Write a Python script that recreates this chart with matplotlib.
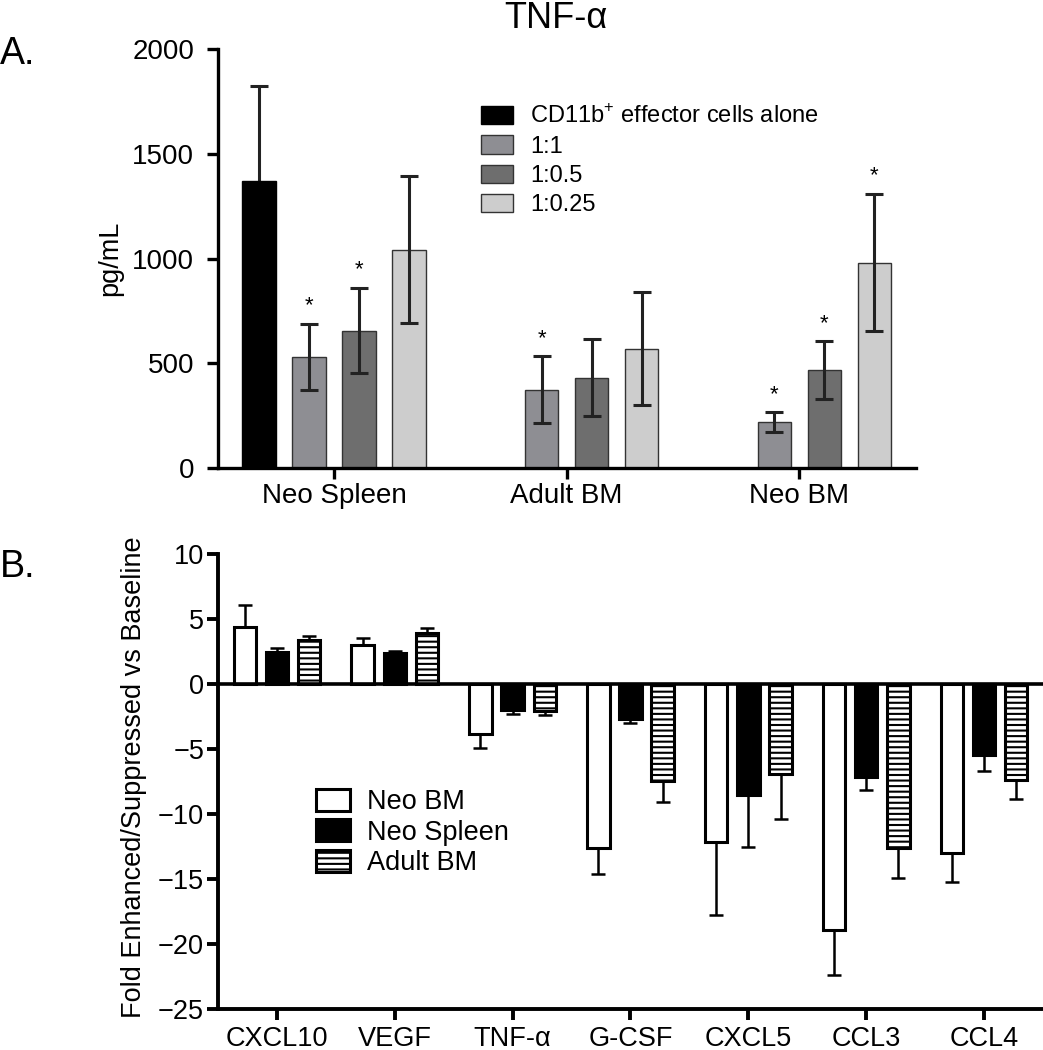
import numpy as np
import matplotlib
matplotlib.use('Agg')
import matplotlib.pyplot as plt

plt.rcParams['font.family'] = ['Liberation Sans', 'DejaVu Sans']
plt.rcParams['mathtext.fontset'] = 'custom'
plt.rcParams['mathtext.rm'] = 'Liberation Sans'
plt.rcParams['hatch.linewidth'] = 1.5

# panel A: TNF-alpha (pg/mL)
groups_a = ['Neo Spleen', 'Adult BM', 'Neo BM']
labels_a = [r'CD11b$^{\mathregular{+}}$ effector cells alone', '1:1', '1:0.5', '1:0.25']
alone = [1372, np.nan, np.nan]
alone_err = [452, np.nan, np.nan]
ratio_1 = [530, 373, 218]
ratio_1_err = [158, 160, 48]
ratio_05 = [656, 432, 468]
ratio_05_err = [203, 185, 137]
ratio_025 = [1043, 570, 981]
ratio_025_err = [351, 269, 327]
stars_1 = [True, True, True]
stars_05 = [True, False, True]
stars_025 = [False, False, True]

# panel B: fold change vs baseline
cytokines = ['CXCL10', 'VEGF', 'TNF-α', 'G-CSF', 'CXCL5', 'CCL3', 'CCL4']
labels_b = ['Neo BM', 'Neo Spleen', 'Adult BM']
neo_bm = [4.36, 2.97, -3.82, -12.6, -12.13, -18.9, -12.96]
neo_bm_err = [1.75, 0.54, 1.1, 2.0, 5.6, 3.45, 2.25]
neo_spleen = [2.5, 2.4, -2.02, -2.66, -8.54, -7.17, -5.42]
neo_spleen_err = [0.3, 0.17, 0.28, 0.32, 3.96, 1.0, 1.24]
adult_bm = [3.37, 3.96, -2.08, -7.46, -6.92, -12.6, -7.33]
adult_bm_err = [0.32, 0.32, 0.32, 1.56, 3.48, 2.3, 1.53]

fig = plt.figure(figsize=(10.43, 10.5), dpi=100)
axA = fig.add_axes([0.2087, 0.5543, 0.6692, 0.3987])
axB = fig.add_axes([0.209, 0.0386, 0.791, 0.4338])

# ---- panel A
x = np.arange(len(groups_a))
step = 0.215
colors_a = ['black', '#8e8e93', '#6e6e6e', '#cdcdcd']
series = [(alone, alone_err, None),
          (ratio_1, ratio_1_err, stars_1),
          (ratio_05, ratio_05_err, stars_05),
          (ratio_025, ratio_025_err, stars_025)]
handles = []
for i, (vals, errs, stars) in enumerate(series):
    xp = x + (i - 1.5) * step
    b = axA.bar(xp, vals, width=0.144, color=colors_a[i],
                edgecolor='black' if i == 0 else '#333333', linewidth=1.0, zorder=2)
    handles.append(b)
    # the black bar hides the lower half of its error bar
    axA.errorbar(xp, vals, yerr=errs, fmt='none', ecolor='#222222',
                 elinewidth=2.2, capsize=6.5, capthick=2.2,
                 zorder=1 if i == 0 else 3)
    if stars:
        for j, s in enumerate(stars):
            if s:
                axA.text(xp[j], vals[j] + errs[j] + 60, '*', ha='center',
                         va='baseline', fontsize=16)

axA.set_xlim(-0.5, 2.5)
axA.set_ylim(0, 2000)
axA.set_yticks([0, 500, 1000, 1500, 2000])
axA.set_xticks(x)
axA.set_xticklabels(groups_a)
axA.set_ylabel('pg/mL', fontsize=19.5)
axA.yaxis.set_label_coords(-0.136, 0.5)
for s in ['top', 'right']:
    axA.spines[s].set_visible(False)
for s in ['left', 'bottom']:
    axA.spines[s].set_linewidth(2.4)
axA.tick_params(axis='y', labelsize=20, width=2.4, length=8, pad=9)
axA.tick_params(axis='x', labelsize=20, width=2.4, length=8, pad=3)
axA.legend(handles, labels_a, loc='upper left', bbox_to_anchor=(0.4612, 0.9002),
           bbox_transform=fig.transFigure, frameon=False, fontsize=17,
           handlelength=1.34, handleheight=0.8, handletextpad=0.73,
           labelspacing=0.3, borderpad=0, borderaxespad=0)

# ---- panel B
xb = np.arange(len(cytokines))
step_b = 0.273
styles = [dict(color='white', hatch=None),
          dict(color='black', hatch=None),
          dict(color='white', hatch='---')]
handles_b = []
for i, (vals, errs) in enumerate([(neo_bm, neo_bm_err),
                                  (neo_spleen, neo_spleen_err),
                                  (adult_bm, adult_bm_err)]):
    vals = np.array(vals)
    errs = np.array(errs)
    xp = xb + (i - 1) * step_b
    lower = np.where(vals < 0, errs, 0)
    upper = np.where(vals >= 0, errs, 0)
    axB.errorbar(xp, vals, yerr=[lower, upper], fmt='none', ecolor='black',
                 elinewidth=1.8, capsize=5, capthick=1.8, zorder=1)
    b = axB.bar(xp, vals, width=0.19, color=styles[i]['color'], edgecolor='black',
                hatch=styles[i]['hatch'], linewidth=2.2, zorder=2)
    handles_b.append(b)

axB.axhline(0, color='black', linewidth=2.6, zorder=4)
axB.set_xlim(-0.5, 6.5)
axB.set_ylim(-25, 10)
axB.set_yticks(np.arange(-25, 11, 5))
axB.set_xticks(xb)
axB.set_xticklabels(cytokines)
axB.set_ylabel('Fold Enhanced/Suppressed vs Baseline', fontsize=19.5)
axB.yaxis.set_label_coords(-0.086, 0.51)
for s in ['top', 'right']:
    axB.spines[s].set_visible(False)
for s in ['left', 'bottom']:
    axB.spines[s].set_linewidth(2.8)
axB.tick_params(axis='y', labelsize=19.5, width=2.8, length=8, pad=2)
axB.tick_params(axis='x', labelsize=19.5, width=2.8, length=8, pad=4)
axB.legend(handles_b, labels_b, loc='upper left', bbox_to_anchor=(0.303, 0.2486),
           bbox_transform=fig.transFigure, frameon=False, fontsize=19.5,
           handlelength=1.26, handleheight=0.87, handletextpad=0.62,
           labelspacing=0.15, borderpad=0, borderaxespad=0)

fig.text(0.533, 0.973, 'TNF-α', ha='center', va='baseline', fontsize=26)
fig.text(0.0, 0.939, 'A.', ha='left', va='baseline', fontsize=27)
fig.text(0.0, 0.4508, 'B.', ha='left', va='baseline', fontsize=27)

fig.savefig('out.png', dpi=100)
